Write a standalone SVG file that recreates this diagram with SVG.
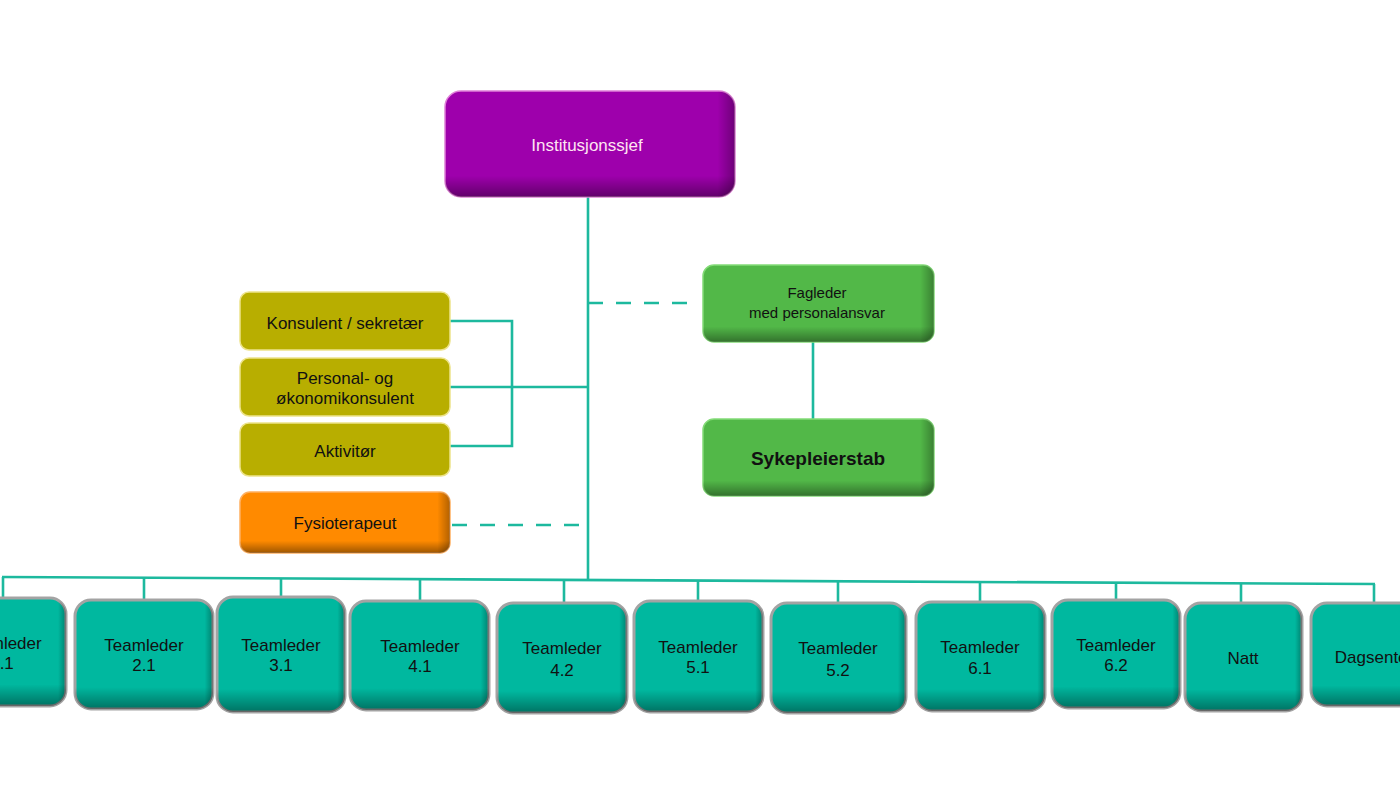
<svg xmlns="http://www.w3.org/2000/svg" width="1400" height="786" viewBox="0 0 1400 786">
<style>
.t{font-family:"Liberation Sans",Arial,sans-serif;text-anchor:middle;fill:#111}
.w{fill:#FFE4F2}
.ln{stroke:#1DB99E;stroke-width:2.6;fill:none}
.dash{stroke-dasharray:15 13}
.teal{fill:#00B89F;stroke:#A3A3A3;stroke-width:3}
.olive{fill:#B8AE00;stroke:#EDE38A;stroke-width:1.5}
.orange{fill:#FF8A00;stroke:#FFB060;stroke-width:1.5}
.green{fill:#52B848;stroke:#84DB78;stroke-width:1.5}
.purple{fill:#9E00AC;stroke:#E080D8;stroke-width:1.5}
.sv{fill:url(#shV);stroke:none}
.sh{fill:url(#shH);stroke:none}
</style>
<defs>
<linearGradient id="shV" x1="0" y1="0" x2="0" y2="1">
<stop offset="0.8" stop-color="#000" stop-opacity="0"/>
<stop offset="1" stop-color="#000" stop-opacity="0.38"/>
</linearGradient>
<linearGradient id="shH" x1="0" y1="0" x2="1" y2="0">
<stop offset="0.94" stop-color="#000" stop-opacity="0"/>
<stop offset="1" stop-color="#000" stop-opacity="0.3"/>
</linearGradient>
</defs>
<rect width="1400" height="786" fill="#fff"/>

<g id="connectors">
<line class="ln" x1="588" y1="197" x2="588" y2="580"/>
<polyline class="ln" points="450,321 512,321 512,446 450,446"/>
<line class="ln" x1="450" y1="387" x2="588" y2="387"/>
<line class="ln dash" x1="452" y1="525" x2="582" y2="525"/>
<line class="ln dash" x1="588" y1="303" x2="693" y2="303"/>
<line class="ln" x1="813" y1="342" x2="813" y2="419"/>
<line class="ln" x1="2" y1="577" x2="1375" y2="584"/>
<line class="ln" x1="3" y1="577" x2="3" y2="598"/>
<line class="ln" x1="144" y1="578" x2="144" y2="600"/>
<line class="ln" x1="281" y1="578" x2="281" y2="597"/>
<line class="ln" x1="420" y1="579" x2="420" y2="601"/>
<line class="ln" x1="564" y1="580" x2="564" y2="603"/>
<line class="ln" x1="698" y1="581" x2="698" y2="601"/>
<line class="ln" x1="838" y1="581" x2="838" y2="603"/>
<line class="ln" x1="980" y1="582" x2="980" y2="602"/>
<line class="ln" x1="1116" y1="583" x2="1116" y2="600"/>
<line class="ln" x1="1241" y1="583" x2="1241" y2="603"/>
<line class="ln" x1="1374" y1="584" x2="1374" y2="603"/>
</g>

<g id="institusjonssjef">
<rect class="purple" x="445" y="91" width="290" height="106" rx="16"/>
<rect class="sv" x="445" y="91" width="290" height="106" rx="16"/>
<rect class="sh" x="445" y="91" width="290" height="106" rx="16"/>
<text class="t w" x="587" y="151" font-size="17">Institusjonssjef</text>
</g>

<g id="konsulent">
<rect class="olive" x="240" y="292" width="210" height="58" rx="9"/>
<text class="t" x="345" y="329" font-size="17">Konsulent / sekretær</text>
</g>
<g id="personal">
<rect class="olive" x="240" y="358" width="210" height="58" rx="9"/>
<text class="t" x="345" y="384" font-size="17">Personal- og</text>
<text class="t" x="345" y="404" font-size="17">økonomikonsulent</text>
</g>
<g id="aktivitor">
<rect class="olive" x="240" y="423" width="210" height="53" rx="9"/>
<text class="t" x="345" y="457" font-size="17">Aktivitør</text>
</g>
<g id="fysioterapeut">
<rect class="orange" x="240" y="492" width="210" height="61" rx="10"/>
<rect class="sv" x="240" y="492" width="210" height="61" rx="10"/>
<rect class="sh" x="240" y="492" width="210" height="61" rx="10"/>
<text class="t" x="345" y="529" font-size="17">Fysioterapeut</text>
</g>

<g id="fagleder">
<rect class="green" x="703" y="265" width="231" height="77" rx="11"/>
<rect class="sv" x="703" y="265" width="231" height="77" rx="11"/>
<rect class="sh" x="703" y="265" width="231" height="77" rx="11"/>
<text class="t" x="817" y="298" font-size="15">Fagleder</text>
<text class="t" x="817" y="318" font-size="15">med personalansvar</text>
</g>
<g id="sykepleierstab">
<rect class="green" x="703" y="419" width="231" height="77" rx="11"/>
<rect class="sv" x="703" y="419" width="231" height="77" rx="11"/>
<rect class="sh" x="703" y="419" width="231" height="77" rx="11"/>
<text class="t" x="818" y="465" font-size="19" font-weight="bold">Sykepleierstab</text>
</g>

<g id="tl11">
<rect class="teal" x="-66" y="598" width="132" height="108" rx="16"/>
<rect class="sv" x="-66" y="598" width="132" height="108" rx="16"/>
<rect class="sh" x="-66" y="598" width="132" height="108" rx="16"/>
<text class="t" x="2" y="649" font-size="17">Teamleder</text>
<text class="t" x="2" y="669" font-size="17">1.1</text>
</g>
<g id="tl21">
<rect class="teal" x="75" y="600" width="138" height="109" rx="16"/>
<rect class="sv" x="75" y="600" width="138" height="109" rx="16"/>
<rect class="sh" x="75" y="600" width="138" height="109" rx="16"/>
<text class="t" x="144" y="651" font-size="17">Teamleder</text>
<text class="t" x="144" y="671" font-size="17">2.1</text>
</g>
<g id="tl31">
<rect class="teal" x="217" y="597" width="128" height="115" rx="16"/>
<rect class="sv" x="217" y="597" width="128" height="115" rx="16"/>
<rect class="sh" x="217" y="597" width="128" height="115" rx="16"/>
<text class="t" x="281" y="651" font-size="17">Teamleder</text>
<text class="t" x="281" y="671" font-size="17">3.1</text>
</g>
<g id="tl41">
<rect class="teal" x="350" y="601" width="139" height="109" rx="16"/>
<rect class="sv" x="350" y="601" width="139" height="109" rx="16"/>
<rect class="sh" x="350" y="601" width="139" height="109" rx="16"/>
<text class="t" x="420" y="652" font-size="17">Teamleder</text>
<text class="t" x="420" y="672" font-size="17">4.1</text>
</g>
<g id="tl42">
<rect class="teal" x="497" y="603" width="130" height="110" rx="16"/>
<rect class="sv" x="497" y="603" width="130" height="110" rx="16"/>
<rect class="sh" x="497" y="603" width="130" height="110" rx="16"/>
<text class="t" x="562" y="654" font-size="17">Teamleder</text>
<text class="t" x="562" y="676" font-size="17">4.2</text>
</g>
<g id="tl51">
<rect class="teal" x="634" y="601" width="129" height="111" rx="16"/>
<rect class="sv" x="634" y="601" width="129" height="111" rx="16"/>
<rect class="sh" x="634" y="601" width="129" height="111" rx="16"/>
<text class="t" x="698" y="653" font-size="17">Teamleder</text>
<text class="t" x="698" y="673" font-size="17">5.1</text>
</g>
<g id="tl52">
<rect class="teal" x="771" y="603" width="135" height="110" rx="16"/>
<rect class="sv" x="771" y="603" width="135" height="110" rx="16"/>
<rect class="sh" x="771" y="603" width="135" height="110" rx="16"/>
<text class="t" x="838" y="654" font-size="17">Teamleder</text>
<text class="t" x="838" y="676" font-size="17">5.2</text>
</g>
<g id="tl61">
<rect class="teal" x="916" y="602" width="129" height="109" rx="16"/>
<rect class="sv" x="916" y="602" width="129" height="109" rx="16"/>
<rect class="sh" x="916" y="602" width="129" height="109" rx="16"/>
<text class="t" x="980" y="653" font-size="17">Teamleder</text>
<text class="t" x="980" y="674" font-size="17">6.1</text>
</g>
<g id="tl62">
<rect class="teal" x="1052" y="600" width="128" height="108" rx="16"/>
<rect class="sv" x="1052" y="600" width="128" height="108" rx="16"/>
<rect class="sh" x="1052" y="600" width="128" height="108" rx="16"/>
<text class="t" x="1116" y="651" font-size="17">Teamleder</text>
<text class="t" x="1116" y="671" font-size="17">6.2</text>
</g>
<g id="natt">
<rect class="teal" x="1185" y="603" width="117" height="108" rx="16"/>
<rect class="sv" x="1185" y="603" width="117" height="108" rx="16"/>
<rect class="sh" x="1185" y="603" width="117" height="108" rx="16"/>
<text class="t" x="1243" y="664" font-size="17">Natt</text>
</g>
<g id="dagsenter">
<rect class="teal" x="1311" y="603" width="130" height="103" rx="16"/>
<rect class="sv" x="1311" y="603" width="130" height="103" rx="16"/>
<rect class="sh" x="1311" y="603" width="130" height="103" rx="16"/>
<text class="t" x="1374" y="663" font-size="17">Dagsenter</text>
</g>
</svg>
